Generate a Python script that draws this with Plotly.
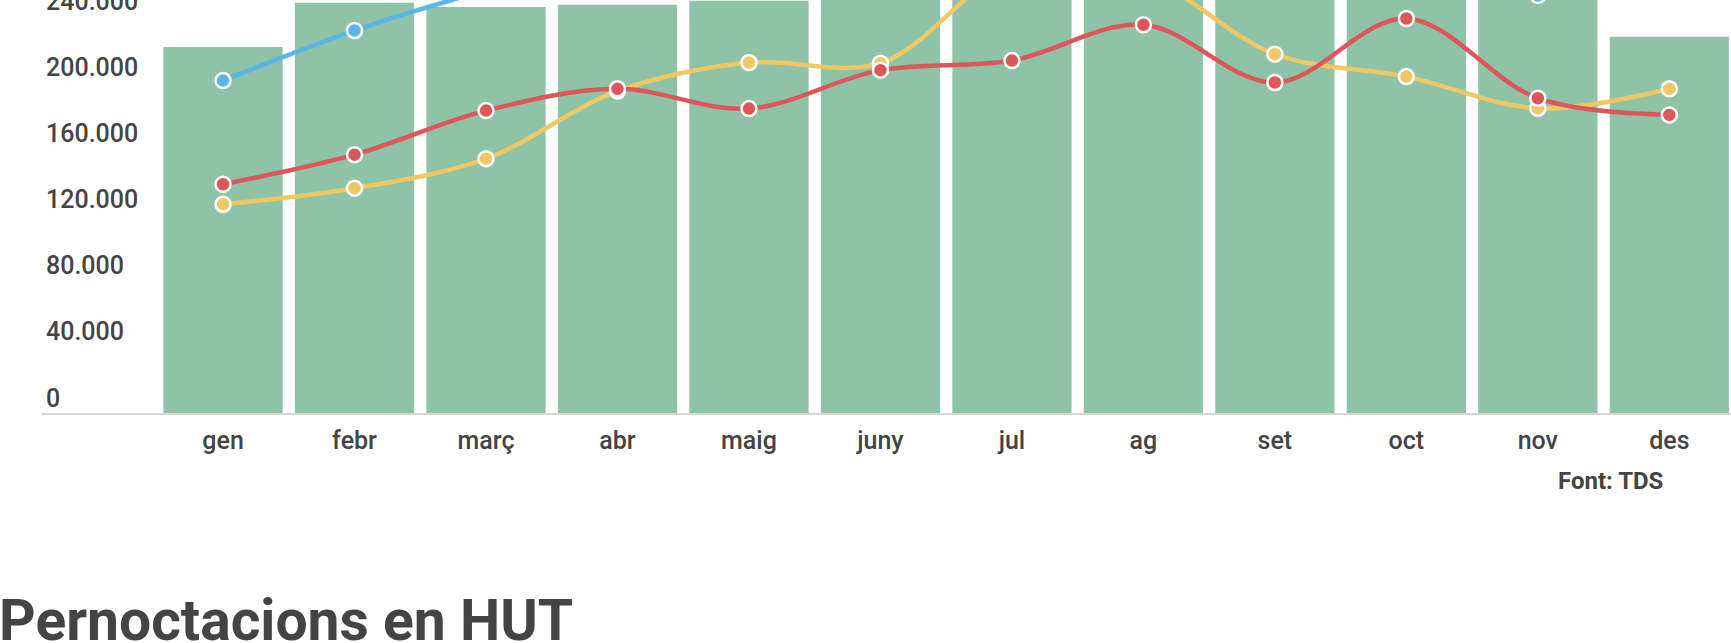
import plotly.graph_objects as go

months = ["gen", "febr", "març", "abr", "maig", "juny", "jul", "ag", "set", "oct", "nov", "des"]
bars_total = [221800, 248500, 246000, 247300, 249700, 275000, 320000, 345000, 290000, 270000, 252000, 228000]
blue_series = [201400, 231700, 256000, 275000, 290000, 300000, 330000, 350000, 300000, 280000, 253000, 280000]
yellow_series = [126500, 136200, 154100, 195000, 212300, 211900, 268000, 264000, 217400, 203800, 184600, 196400]
red_series = [138600, 156500, 183200, 196400, 184400, 207700, 213500, 235200, 200200, 239000, 190700, 180600]
y_tickvals = [0, 40000, 80000, 120000, 160000, 200000, 240000]
y_ticktext = ["0", "40.000", "80.000", "120.000", "160.000", "200.000", "240.000"]

GREEN = "#8ec3a7"
BLUE = "#5cb5e6"
YELLOW = "#efc865"
RED = "#dd575a"
TXT = "#444444"

W, H = 1731, 643
ML, MR, MT, MB = 42, 0, 0, 230

fig = go.Figure()
fig.add_trace(go.Bar(x=list(range(12)), y=bars_total, marker=dict(color=GREEN, line=dict(width=0)),
                     hoverinfo="skip"))
for vals, col in [(blue_series, BLUE), (yellow_series, YELLOW), (red_series, RED)]:
    fig.add_trace(go.Scatter(
        x=list(range(12)), y=vals, mode="lines+markers",
        line=dict(color=col, width=4.5, shape="spline", smoothing=1),
        marker=dict(color=col, size=15, line=dict(color="white", width=2.5)),
        hoverinfo="skip"))

fig.update_layout(
    width=W, height=H,
    margin=dict(l=ML, r=MR, t=MT, b=MB, pad=0),
    plot_bgcolor="white", paper_bgcolor="white",
    showlegend=False, bargap=0.093,
    font=dict(family="Roboto", color=TXT, size=25),
)
fig.update_xaxes(
    range=[-1.377, 11.469], tickmode="array", tickvals=list(range(12)), ticktext=months,
    showgrid=False, zeroline=False, showline=True, linecolor="#d6d6d6", linewidth=2,
    ticks="", tickfont=dict(family="Roboto", size=25, color=TXT, weight=500), ticklabelstandoff=4,
)
fig.update_yaxes(
    range=[0, 250200], showgrid=False, zeroline=False, showline=False, ticks="",
    showticklabels=False,
)

def px_x(px):
    return (px - ML) / (W - ML - MR)

def px_y(py):
    return (H - MB - py) / (H - MB - MT)

for v, t in zip(y_tickvals, y_ticktext):
    fig.add_annotation(text=t, xref="paper", yref="y", x=px_x(44), y=v,
                       xanchor="left", yanchor="middle", yshift=15, showarrow=False,
                       font=dict(family="Roboto", size=25, color=TXT, weight=500))

fig.add_annotation(text="<b>Font: TDS</b>", xref="paper", yref="paper",
                   x=px_x(1665), y=px_y(481), xanchor="right", yanchor="middle",
                   showarrow=False, font=dict(family="Roboto", size=24, color=TXT))
fig.add_annotation(text="<b>Pernoctacions en HUT</b>", xref="paper", yref="paper",
                   x=px_x(-3), y=px_y(620), xanchor="left", yanchor="middle",
                   showarrow=False, font=dict(family="Roboto", size=57, color=TXT))

fig.write_html("out.html", config={"displayModeBar": False},
               post_script="document.body.style.margin='0';document.body.style.overflow='hidden';")
